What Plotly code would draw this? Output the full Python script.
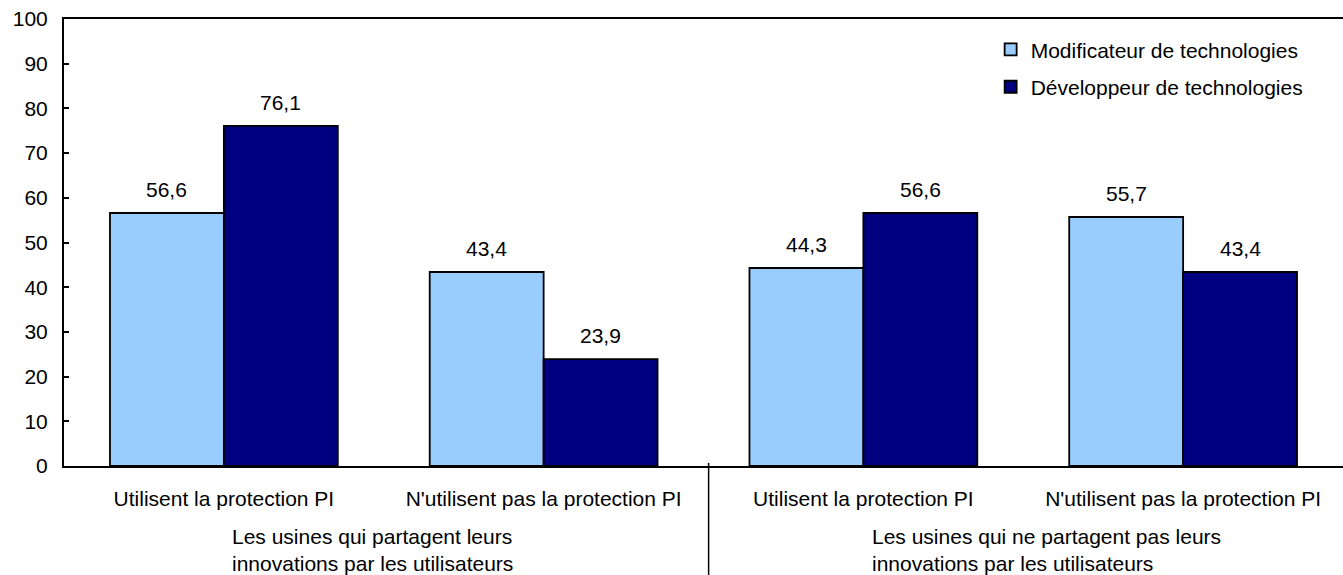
import plotly.graph_objects as go

categories = [
    "Utilisent la protection PI",
    "N'utilisent pas la protection PI",
    "Utilisent la protection PI ",
    "N'utilisent pas la protection PI ",
]
tick_labels = [
    "Utilisent la protection PI",
    "N'utilisent pas la protection PI",
    "Utilisent la protection PI",
    "N'utilisent pas la protection PI",
]
modificateur = [56.6, 43.4, 44.3, 55.7]
developpeur = [76.1, 23.9, 56.6, 43.4]
group_labels = [
    "Les usines qui partagent leurs<br>innovations par les utilisateurs",
    "Les usines qui ne partagent pas leurs<br>innovations par les utilisateurs",
]

FONT = "Liberation Sans, Arial, sans-serif"
FS = 21
x_idx = list(range(len(categories)))

fig = go.Figure()
fig.add_trace(go.Bar(
    x=x_idx, y=modificateur, name="Modificateur de technologies",
    marker=dict(color="#99CCFF", line=dict(color="black", width=1.8)),
    legendgroup="a",
))
fig.add_trace(go.Bar(
    x=x_idx, y=developpeur, name="Développeur de technologies",
    marker=dict(color="#000080", line=dict(color="black", width=1.8)),
    legendgroup="b",
))

# value labels above each bar
annotations = []
offset = 0.7125 / 4
for i, (m, d) in enumerate(zip(modificateur, developpeur)):
    for xv, yv in ((i - offset, m), (i + offset, d)):
        annotations.append(dict(
            x=xv, y=yv, xref="x", yref="y", text=f"{yv:.1f}".replace(".", ","),
            showarrow=False, yanchor="bottom", yshift=10,
            font=dict(family=FONT, size=FS, color="black"),
        ))

# group captions under the category labels
for xv, txt in zip((0.02, 2.02), group_labels):
    annotations.append(dict(
        x=xv, y=0, xref="x", yref="paper", text=txt, showarrow=False,
        xanchor="left", yanchor="top", yshift=-57, align="left",
        font=dict(family=FONT, size=FS, color="black"),
    ))

fig.update_layout(
    width=1343, height=575,
    margin=dict(l=64, r=0, t=19, b=109),
    paper_bgcolor="white", plot_bgcolor="white",
    barmode="group", bargap=0.2875, bargroupgap=0,
    separators=", ",
    font=dict(family=FONT, size=FS, color="black"),
    showlegend=True,
    legend=dict(
        x=0.7245, y=0.977, xanchor="left", yanchor="top",
        bgcolor="rgba(0,0,0,0)", tracegroupgap=7,
        font=dict(family=FONT, size=FS, color="black"),
        itemwidth=30,
    ),
    annotations=annotations,
    shapes=[dict(
        type="line", xref="x", yref="paper",
        x0=1.516, x1=1.516, y0=0.007, y1=-0.3,
        line=dict(color="black", width=1.5),
    )],
)
fig.update_xaxes(
    range=[-0.5, 3.5], tickmode="array", tickvals=x_idx, ticktext=tick_labels,
    showline=True, linecolor="black", linewidth=2, mirror=True,
    ticks="", showgrid=False, zeroline=False, ticklabelstandoff=13,
    tickfont=dict(family=FONT, size=FS, color="black"),
)
fig.update_yaxes(
    range=[0, 100], dtick=10, showline=True, linecolor="black", linewidth=2,
    ticks="inside", ticklen=5, tickwidth=2, tickcolor="black",
    showgrid=False, zeroline=False, ticklabelstandoff=10,
    tickfont=dict(family=FONT, size=FS, color="black"),
)

fig.write_html("out.html")
